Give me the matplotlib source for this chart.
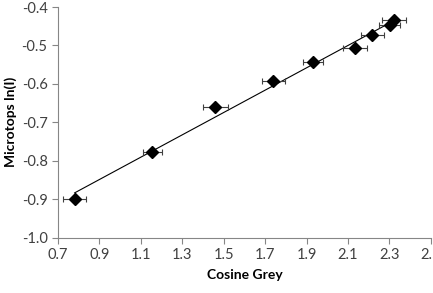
import numpy as np
import matplotlib
matplotlib.use("Agg")
import matplotlib.pyplot as plt

plt.rcParams['font.family'] = ['Lato', 'DejaVu Sans']

cosine_grey = [0.78, 1.155, 1.46, 1.74, 1.93, 2.133, 2.218, 2.301, 2.321]
microtops_ln = [-0.900, -0.777, -0.660, -0.593, -0.543, -0.506, -0.472, -0.448, -0.433]
x_err = [0.054, 0.045, 0.060, 0.055, 0.048, 0.059, 0.055, 0.052, 0.058]
x_ticks = [0.7, 0.9, 1.1, 1.3, 1.5, 1.7, 1.9, 2.1, 2.3, 2.5]
y_ticks = [-1.0, -0.9, -0.8, -0.7, -0.6, -0.5, -0.4]

fig = plt.figure(figsize=(4.33, 2.93), dpi=100)
ax = fig.add_axes([0.134, 0.189, 0.861, 0.787])

x = np.array(cosine_grey)
y = np.array(microtops_ln)
slope, intercept = np.polyfit(x, y, 1)
xs = np.array([x.min(), x.max()])
ax.plot(xs, slope * xs + intercept, color='black', lw=0.8, zorder=2)

ax.errorbar(x, y, xerr=x_err, fmt='D', color='black', ms=6.3,
            ecolor='#404040', elinewidth=0.8, capsize=2.5, capthick=0.8, zorder=3)

ax.set_xlim(0.7, 2.5)
ax.set_ylim(-1.0, -0.4)
ax.set_xticks(x_ticks)
ax.set_yticks(y_ticks)
ax.set_xticklabels([f"{v:.1f}" for v in x_ticks])
ax.set_yticklabels([f"{v:.1f}" for v in y_ticks])

for s in ['top', 'right']:
    ax.spines[s].set_visible(False)
for s in ['left', 'bottom']:
    ax.spines[s].set_color('#868686')
    ax.spines[s].set_linewidth(0.8)
ax.tick_params(axis='both', colors='#868686', length=4, width=0.8, labelsize=10.5,
               labelcolor='#404040', direction='out')

ax.set_xlabel('Cosine Grey', fontsize=10, fontweight='bold', labelpad=5)
ax.set_ylabel('Microtops ln(I)', fontsize=10, fontweight='bold', labelpad=3)

fig.savefig('out.png', dpi=100)
